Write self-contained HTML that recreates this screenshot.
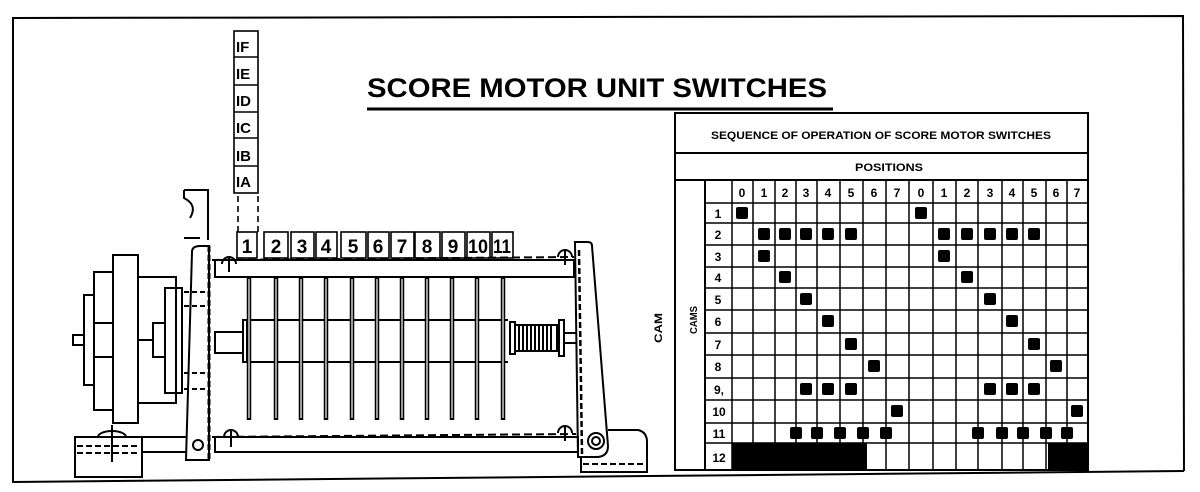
<!DOCTYPE html>
<html><head><meta charset="utf-8"><style>
html,body{margin:0;padding:0;background:#fff;}
svg{display:block;}
text{font-family:"Liberation Sans",sans-serif;font-weight:bold;fill:#000;}
</style></head><body>
<svg width="1200" height="492" viewBox="0 0 1200 492" xmlns="http://www.w3.org/2000/svg">
<rect width="1200" height="492" fill="#fff"/>
<!-- frame -->
<polyline points="13,483 13,18 1183,16 1184,471" fill="none" stroke="#000" stroke-width="2"/>
<line x1="13" y1="482" x2="1184" y2="471" stroke="#000" stroke-width="2"/>

<!-- title -->
<text x="367" y="97" font-size="27" textLength="460" lengthAdjust="spacingAndGlyphs">SCORE  MOTOR  UNIT  SWITCHES</text>
<line x1="367" y1="109" x2="833" y2="109" stroke="#000" stroke-width="3"/>

<!-- IF..IA column -->
<g fill="none" stroke="#000" stroke-width="1.6">
<rect x="234" y="31" width="24" height="162"/>
<line x1="234" y1="57" x2="258" y2="57"/><line x1="234" y1="85" x2="258" y2="85"/>
<line x1="234" y1="112" x2="258" y2="112"/><line x1="234" y1="138" x2="258" y2="138"/>
<line x1="234" y1="166" x2="258" y2="166"/>
<line x1="238" y1="196" x2="238" y2="232" stroke-dasharray="6,4"/>
<line x1="258" y1="196" x2="258" y2="232" stroke-dasharray="6,4"/>
</g>
<g font-size="15">
<text x="236" y="52">IF</text><text x="236" y="79">IE</text><text x="236" y="106">ID</text>
<text x="236" y="133">IC</text><text x="236" y="161">IB</text><text x="236" y="187">IA</text>
</g>

<!-- number boxes -->
<g fill="none" stroke="#000" stroke-width="1.6">
<rect x="237" y="232" width="20" height="26"/><rect x="264" y="232" width="24" height="26"/>
<rect x="291" y="232" width="23" height="26"/><rect x="316" y="232" width="21" height="26"/>
<rect x="341" y="232" width="25" height="26"/><rect x="368" y="232" width="21" height="26"/>
<rect x="391" y="232" width="23" height="26"/><rect x="415" y="232" width="25" height="26"/>
<rect x="442" y="232" width="23" height="26"/><rect x="467" y="232" width="23" height="26"/>
<rect x="492" y="232" width="21" height="26"/>
</g>
<g font-size="19" text-anchor="middle">
<text x="247" y="253">1</text><text x="276" y="253">2</text><text x="302" y="253">3</text>
<text x="326" y="253">4</text><text x="353" y="253">5</text><text x="378" y="253">6</text>
<text x="402" y="253">7</text><text x="427" y="253">8</text><text x="453" y="253">9</text>
<text x="478" y="253" textLength="20" lengthAdjust="spacingAndGlyphs">10</text>
<text x="502" y="253" textLength="18" lengthAdjust="spacingAndGlyphs">11</text>
</g>

<!-- machine drawing -->
<g fill="none" stroke="#000" stroke-width="2">
<rect x="215" y="260" width="359" height="17"/>
<line x1="212" y1="260" x2="574" y2="257" stroke-dasharray="8,4"/>
<rect x="215" y="437" width="363" height="15"/>
<line x1="212" y1="437" x2="576" y2="434" stroke-dasharray="8,4"/>
<!-- drum -->
<line x1="243" y1="320" x2="508" y2="320"/><line x1="243" y1="362" x2="508" y2="362"/>
<rect x="243" y="320" width="4" height="42"/>
<rect x="215" y="332" width="28" height="21"/>
<!-- rods (double lines) -->
<g stroke-width="4.5">
<line x1="249" y1="277" x2="249" y2="420"/><line x1="276" y1="277" x2="276" y2="420"/>
<line x1="301" y1="277" x2="301" y2="420"/><line x1="326" y1="277" x2="326" y2="420"/>
<line x1="352" y1="277" x2="352" y2="420"/><line x1="377" y1="277" x2="377" y2="420"/>
<line x1="402" y1="277" x2="402" y2="420"/><line x1="427" y1="277" x2="427" y2="420"/>
<line x1="452" y1="277" x2="452" y2="420"/><line x1="477" y1="277" x2="477" y2="420"/>
<line x1="503" y1="277" x2="503" y2="420"/>
</g>
<g stroke="#fff" stroke-width="1.2">
<line x1="249" y1="279" x2="249" y2="418"/><line x1="276" y1="279" x2="276" y2="418"/>
<line x1="301" y1="279" x2="301" y2="418"/><line x1="326" y1="279" x2="326" y2="418"/>
<line x1="352" y1="279" x2="352" y2="418"/><line x1="377" y1="279" x2="377" y2="418"/>
<line x1="402" y1="279" x2="402" y2="418"/><line x1="427" y1="279" x2="427" y2="418"/>
<line x1="452" y1="279" x2="452" y2="418"/><line x1="477" y1="279" x2="477" y2="418"/>
<line x1="503" y1="279" x2="503" y2="418"/>
</g>
<!-- gear -->
<rect x="510" y="322" width="5" height="32"/>
<rect x="515" y="325" width="42" height="26"/>
<line x1="519" y1="325" x2="519" y2="351"/><line x1="523" y1="325" x2="523" y2="351"/><line x1="527" y1="325" x2="527" y2="351"/><line x1="531" y1="325" x2="531" y2="351"/><line x1="535" y1="325" x2="535" y2="351"/><line x1="539" y1="325" x2="539" y2="351"/><line x1="543" y1="325" x2="543" y2="351"/><line x1="547" y1="325" x2="547" y2="351"/><line x1="551" y1="325" x2="551" y2="351"/>
<rect x="559" y="320" width="5" height="36"/>
<line x1="564" y1="333" x2="576" y2="333"/><line x1="564" y1="343" x2="576" y2="343"/>
<!-- left bracket -->
<path d="M192,252 Q192,246 200,246 L209,246 L209,460 L186,460 Z"/>
<circle cx="198" cy="445" r="5"/>
<line x1="209" y1="246" x2="209" y2="460" stroke-dasharray="6,3" stroke-width="3"/>
<line x1="184" y1="292" x2="209" y2="292" stroke-dasharray="5,3"/><line x1="184" y1="306" x2="209" y2="306" stroke-dasharray="5,3"/>
<line x1="184" y1="373" x2="209" y2="373" stroke-dasharray="5,3"/><line x1="184" y1="389" x2="209" y2="389" stroke-dasharray="5,3"/>
<!-- upper left small bracket -->
<path d="M184,190 L208,190 L208,240 M184,238 L200,238 M184,190 L184,198 Q198,205 190,218"/>
<!-- right bracket -->
<path d="M575,242 L588,242 Q592,242 592,246 L608,446 Q608,457 596,457 L578,457 Z"/>
<line x1="579" y1="250" x2="582" y2="455" stroke-dasharray="6,3" stroke-width="2.5"/>
<circle cx="596" cy="441" r="8"/><circle cx="596" cy="441" r="4"/>
<path d="M608,430 L638,430 Q647,432 647,442 L647,472 L581,472 L581,457"/>
<line x1="583" y1="464" x2="646" y2="464" stroke-dasharray="6,3"/>
<!-- crosshair marks -->
<path d="M222,264 a7,7 0 0 1 14,0 M229,256 L229,272"/>
<path d="M558,257 a7,7 0 0 1 14,0 M565,249 L565,265"/>
<path d="M224,437 a7,7 0 0 1 14,0 M231,429 L231,447"/>
<path d="M558,433 a7,7 0 0 1 14,0 M565,425 L565,441"/>
<!-- motor -->
<rect x="113" y="255" width="25" height="168"/>
<rect x="94" y="272" width="19" height="138"/>
<rect x="84" y="295" width="10" height="90"/>
<line x1="94" y1="323" x2="113" y2="323"/><line x1="94" y1="357" x2="113" y2="357"/>
<rect x="73" y="335" width="11" height="10"/>
<rect x="138" y="277" width="38" height="126"/>
<rect x="165" y="288" width="17" height="105"/>
<rect x="153" y="323" width="12" height="34"/>
<line x1="138" y1="340" x2="153" y2="340"/>
<!-- base left -->
<rect x="75" y="437" width="67" height="40"/>
<line x1="142" y1="437" x2="186" y2="437"/><line x1="142" y1="452" x2="186" y2="452"/>
<path d="M98,437 a14,6 0 0 1 28,0"/>
<line x1="112" y1="425" x2="112" y2="462"/>
<line x1="77" y1="446" x2="140" y2="446" stroke-dasharray="6,3"/>
<line x1="77" y1="453" x2="140" y2="453" stroke-dasharray="6,3"/>
</g>

<!-- CAM label -->
<text transform="translate(662,343) rotate(-90)" font-size="11" textLength="30" lengthAdjust="spacingAndGlyphs">CAM</text>

<!-- table -->
<g fill="none" stroke="#000" stroke-width="1.5">
<rect x="675" y="113" width="413" height="357" stroke-width="2"/>
<line x1="675" y1="153" x2="1088" y2="153" stroke-width="2"/>
<line x1="675" y1="180" x2="1088" y2="180" stroke-width="2"/>
<line x1="705" y1="180" x2="705" y2="470" stroke-width="2"/>
<line x1="732" y1="180" x2="732" y2="470"/><line x1="753" y1="180" x2="753" y2="470"/>
<line x1="775" y1="180" x2="775" y2="470"/><line x1="796" y1="180" x2="796" y2="470"/>
<line x1="817" y1="180" x2="817" y2="470"/><line x1="840" y1="180" x2="840" y2="470"/>
<line x1="863" y1="180" x2="863" y2="470"/><line x1="886" y1="180" x2="886" y2="470"/>
<line x1="909" y1="180" x2="909" y2="470"/><line x1="933" y1="180" x2="933" y2="470"/>
<line x1="956" y1="180" x2="956" y2="470"/><line x1="978" y1="180" x2="978" y2="470"/>
<line x1="1002" y1="180" x2="1002" y2="470"/><line x1="1023" y1="180" x2="1023" y2="470"/>
<line x1="1046" y1="180" x2="1046" y2="470"/><line x1="1067" y1="180" x2="1067" y2="470"/>
<line x1="705" y1="203" x2="1088" y2="203"/><line x1="705" y1="223" x2="1088" y2="223"/>
<line x1="705" y1="245" x2="1088" y2="245"/><line x1="705" y1="267" x2="1088" y2="267"/>
<line x1="705" y1="288" x2="1088" y2="288"/><line x1="705" y1="310" x2="1088" y2="310"/>
<line x1="705" y1="333" x2="1088" y2="333"/><line x1="705" y1="355" x2="1088" y2="355"/>
<line x1="705" y1="378" x2="1088" y2="378"/><line x1="705" y1="400" x2="1088" y2="400"/>
<line x1="705" y1="423" x2="1088" y2="423"/><line x1="705" y1="443" x2="1088" y2="443"/>
</g>
<text x="881" y="139" font-size="11" text-anchor="middle" textLength="340" lengthAdjust="spacingAndGlyphs">SEQUENCE OF OPERATION OF SCORE MOTOR SWITCHES</text>
<text x="889" y="171" font-size="11" text-anchor="middle" textLength="68" lengthAdjust="spacingAndGlyphs">POSITIONS</text>
<text transform="translate(697,334) rotate(-90)" font-size="10" textLength="28" lengthAdjust="spacingAndGlyphs">CAMS</text>
<g font-size="12" font-weight="normal" text-anchor="middle">
<text x="742" y="197">0</text><text x="764" y="197">1</text><text x="785" y="197">2</text><text x="806" y="197">3</text>
<text x="828" y="197">4</text><text x="851" y="197">5</text><text x="874" y="197">6</text><text x="897" y="197">7</text>
<text x="921" y="197">0</text><text x="944" y="197">1</text><text x="967" y="197">2</text><text x="990" y="197">3</text>
<text x="1012" y="197">4</text><text x="1034" y="197">5</text><text x="1056" y="197">6</text><text x="1077" y="197">7</text>
</g>
<g font-size="12" text-anchor="middle">
<text x="718" y="218">1</text><text x="718" y="239">2</text><text x="718" y="261">3</text><text x="718" y="282">4</text>
<text x="718" y="304">5</text><text x="718" y="326">6</text><text x="718" y="349">7</text><text x="718" y="371">8</text>
<text x="719" y="394">9,</text><text x="719" y="416">10</text><text x="719" y="438">11</text><text x="719" y="462">12</text>
</g>
<g fill="#000">
<rect x="736" y="207" width="12" height="12" rx="2"/><rect x="915" y="207" width="12" height="12" rx="2"/>
<rect x="758" y="228" width="12" height="12" rx="2"/><rect x="779" y="228" width="12" height="12" rx="2"/><rect x="800" y="228" width="12" height="12" rx="2"/><rect x="822" y="228" width="12" height="12" rx="2"/><rect x="845" y="228" width="12" height="12" rx="2"/>
<rect x="938" y="228" width="12" height="12" rx="2"/><rect x="961" y="228" width="12" height="12" rx="2"/><rect x="984" y="228" width="12" height="12" rx="2"/><rect x="1006" y="228" width="12" height="12" rx="2"/><rect x="1028" y="228" width="12" height="12" rx="2"/>
<rect x="758" y="250" width="12" height="12" rx="2"/><rect x="938" y="250" width="12" height="12" rx="2"/>
<rect x="779" y="271" width="12" height="12" rx="2"/><rect x="961" y="271" width="12" height="12" rx="2"/>
<rect x="800" y="293" width="12" height="12" rx="2"/><rect x="984" y="293" width="12" height="12" rx="2"/>
<rect x="822" y="315" width="12" height="12" rx="2"/><rect x="1006" y="315" width="12" height="12" rx="2"/>
<rect x="845" y="338" width="12" height="12" rx="2"/><rect x="1028" y="338" width="12" height="12" rx="2"/>
<rect x="868" y="360" width="12" height="12" rx="2"/><rect x="1050" y="360" width="12" height="12" rx="2"/>
<rect x="800" y="383" width="12" height="12" rx="2"/><rect x="822" y="383" width="12" height="12" rx="2"/><rect x="845" y="383" width="12" height="12" rx="2"/>
<rect x="984" y="383" width="12" height="12" rx="2"/><rect x="1006" y="383" width="12" height="12" rx="2"/><rect x="1028" y="383" width="12" height="12" rx="2"/>
<rect x="891" y="405" width="12" height="12" rx="2"/><rect x="1071" y="405" width="12" height="12" rx="2"/>
<rect x="790" y="427" width="12" height="12" rx="2"/><rect x="811" y="427" width="12" height="12" rx="2"/><rect x="834" y="427" width="12" height="12" rx="2"/><rect x="857" y="427" width="12" height="12" rx="2"/><rect x="880" y="427" width="12" height="12" rx="2"/>
<rect x="972" y="427" width="12" height="12" rx="2"/><rect x="996" y="427" width="12" height="12" rx="2"/><rect x="1017" y="427" width="12" height="12" rx="2"/><rect x="1040" y="427" width="12" height="12" rx="2"/><rect x="1061" y="427" width="12" height="12" rx="2"/>
<rect x="732" y="443" width="135" height="27"/>
<rect x="1048" y="443" width="40" height="27"/>
</g>
</svg>
</body></html>
